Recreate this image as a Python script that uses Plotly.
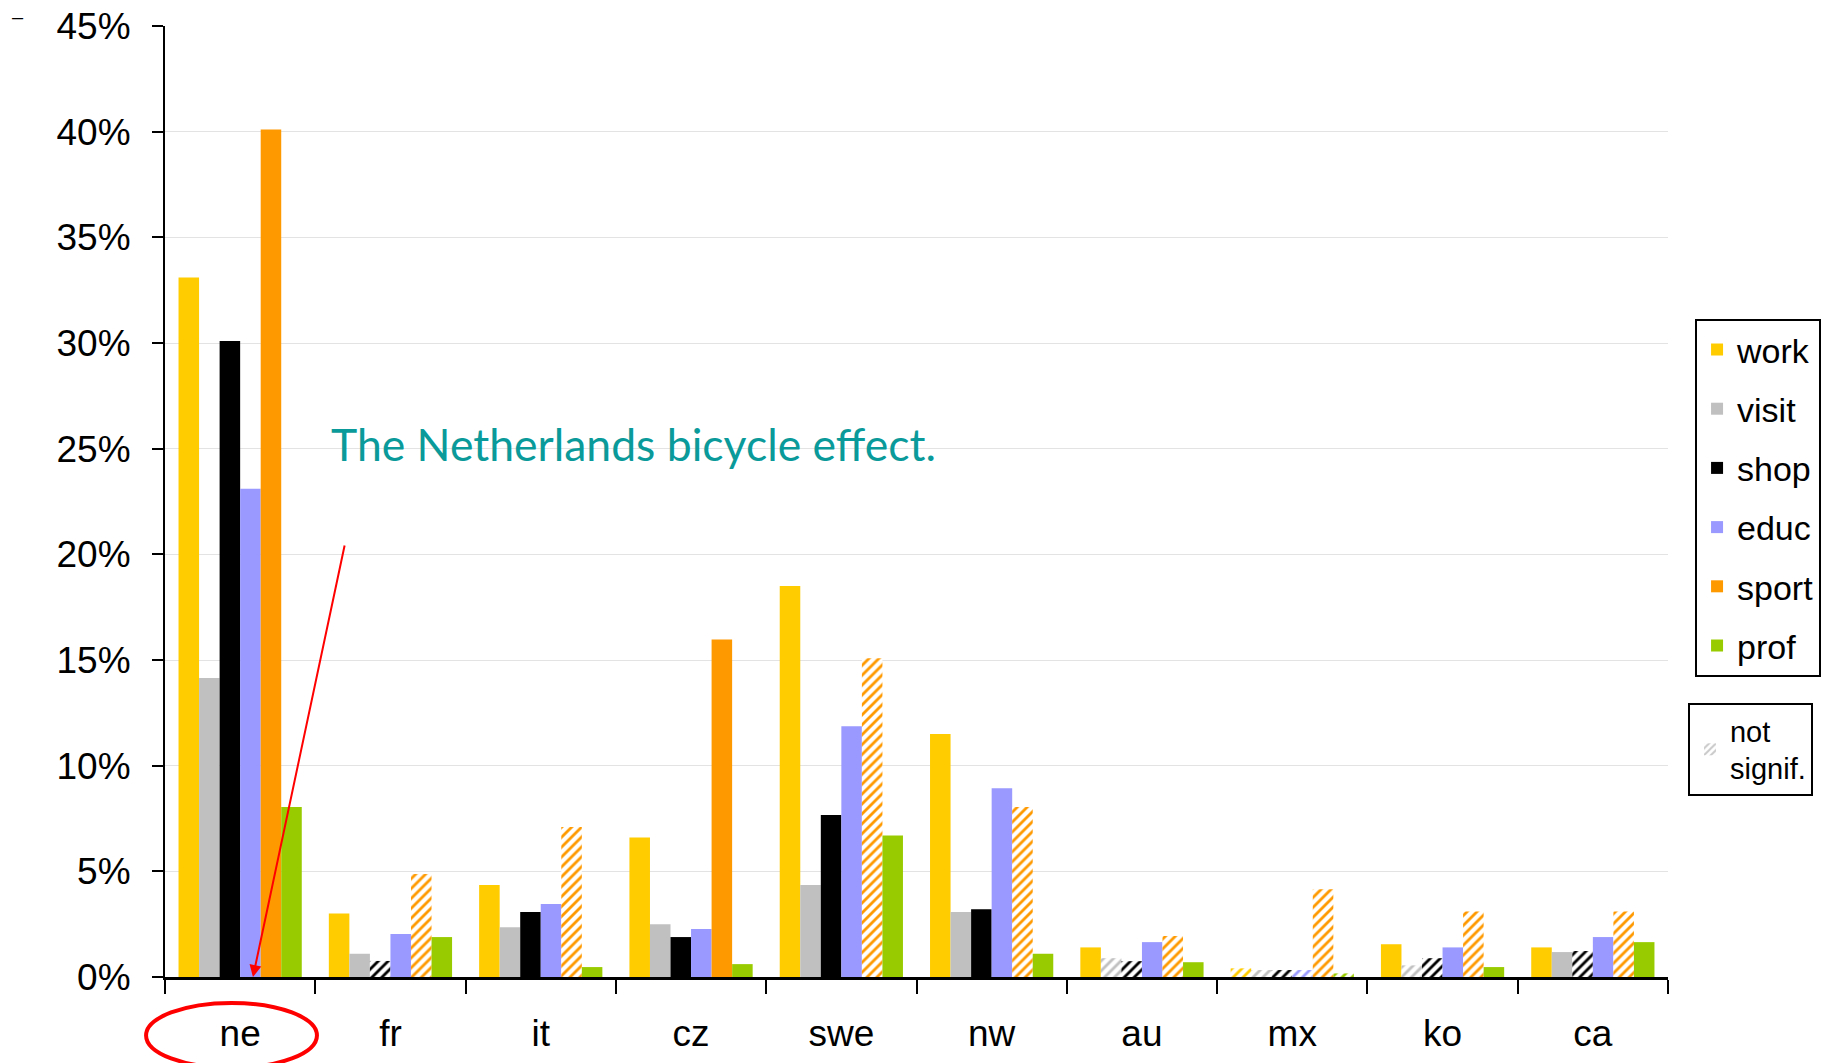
import plotly.graph_objects as go

# pays et motifs de déplacement
paises = ["ne", "fr", "it", "cz", "swe", "nw", "au", "mx", "ko", "ca"]

work = [33.1, 3.0, 4.35, 6.6, 18.5, 11.5, 1.4, 0.41, 1.55, 1.4]
visit = [14.15, 1.1, 2.36, 2.5, 4.35, 3.07, 0.89, 0.33, 0.55, 1.18]
shop = [30.1, 0.76, 3.07, 1.89, 7.66, 3.21, 0.75, 0.33, 0.89, 1.23]
educ = [23.1, 2.03, 3.45, 2.27, 11.86, 8.93, 1.65, 0.33, 1.4, 1.89]
sport = [40.1, 4.87, 7.1, 15.97, 15.08, 8.05, 1.94, 4.15, 3.1, 3.1]
prof = [8.05, 1.89, 0.47, 0.61, 6.7, 1.1, 0.7, 0.17, 0.47, 1.65]

# 1 = significatif, 0 = non significatif (barre hachurée)
sigWork = [1, 1, 1, 1, 1, 1, 1, 0, 1, 1]
sigVisit = [1, 1, 1, 1, 1, 1, 0, 0, 0, 1]
sigShop = [1, 0, 1, 1, 1, 1, 0, 0, 0, 0]
sigEduc = [1, 1, 1, 1, 1, 1, 1, 0, 1, 1]
sigSport = [1, 0, 0, 1, 0, 0, 0, 0, 0, 0]
sigProf = [1, 1, 1, 1, 1, 1, 1, 0, 1, 1]

series = [
    ("work", work, sigWork, "#FFCC00"),
    ("visit", visit, sigVisit, "#C0C0C0"),
    ("shop", shop, sigShop, "#000000"),
    ("educ", educ, sigEduc, "#9999FF"),
    ("sport", sport, sigSport, "#FF9900"),
    ("prof", prof, sigProf, "#99CC00"),
]

fig = go.Figure()

for nome, valores, sig, cor in series:
    formas = ["" if s else "/" for s in sig]
    fig.add_trace(go.Bar(
        x=paises,
        y=valores,
        name=nome,
        legendgroup=nome,
        marker=dict(
            color=cor,
            line=dict(width=0),
            pattern=dict(shape=formas, fgcolor=cor, bgcolor="white",
                         size=7, solidity=0.4, fillmode="replace"),
        ),
    ))

# entrée de légende "not signif."
fig.add_trace(go.Bar(
    x=[None], y=[None],
    name="not<br>signif.",
    xaxis="x2", yaxis="y2",
    legend="legend2",
    marker=dict(color="#C8C8C8", line=dict(width=0),
                pattern=dict(shape="/", fgcolor="#C8C8C8", bgcolor="white",
                             size=6, solidity=0.4, fillmode="replace")),
))

# la page html ajoute 8 px de marge autour du graphique
fig.update_layout(
    width=1839, height=1063,
    margin=dict(l=157, r=179, t=18, b=94),
    plot_bgcolor="white", paper_bgcolor="white",
    font=dict(family="Liberation Sans", size=37, color="black"),
    barmode="group", bargap=0.18, bargroupgap=0,
    legend=dict(
        x=1.018, xanchor="left", y=0.692, yanchor="top",
        bordercolor="black", borderwidth=2,
        font=dict(size=34), tracegroupgap=12,
    ),
    legend2=dict(
        x=1.0133, xanchor="left", y=0.288, yanchor="top",
        bordercolor="black", borderwidth=2,
        font=dict(size=29),
    ),
    xaxis=dict(
        type="category", tickson="boundaries", automargin=False,
        showline=True, linecolor="black", linewidth=3,
        ticks="outside", ticklen=14, tickwidth=2, tickcolor="black",
        ticklabelstandoff=22, showgrid=False,
    ),
    yaxis=dict(
        range=[0, 45], dtick=5, ticksuffix="%", automargin=False,
        showline=True, linecolor="black", linewidth=2,
        ticks="outside", ticklen=11, tickwidth=2, tickcolor="black",
        showgrid=True, gridcolor="#E3E3E3", gridwidth=1, zeroline=False,
        ticklabelstandoff=14, ticklabeloverflow="allow",
    ),
    xaxis2=dict(overlaying="x", visible=False),
    yaxis2=dict(overlaying="y", visible=False),
)

fig.add_annotation(
    text="The Netherlands bicycle effect.",
    xref="paper", yref="paper", x=0.312, y=0.5615,
    xanchor="center", yanchor="middle",
    showarrow=False, font=dict(family="Lato", size=44.5, color="#0A9A9A"),
)

fig.add_annotation(
    text="",
    xref="paper", yref="paper", x=0.0585, y=0,
    ax=92, ay=-433,
    showarrow=True, arrowhead=2, arrowsize=1.2, arrowwidth=2, arrowcolor="red",
)

fig.add_annotation(
    text="–", xref="paper", yref="paper", x=-0.103, y=1.023,
    showarrow=False, font=dict(size=20),
)

fig.add_shape(
    type="circle", xref="paper", yref="paper",
    x0=-0.0126, x1=0.1011, y0=-0.0273, y1=-0.0957,
    line=dict(color="red", width=4),
)

fig.write_html("out.html")
